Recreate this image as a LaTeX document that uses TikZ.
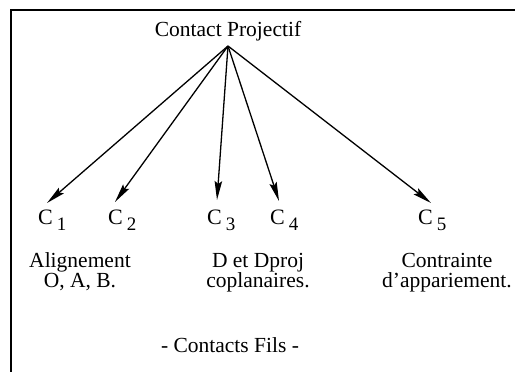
\documentclass[tikz,border=0pt]{standalone}
\usepackage{fontspec}
\setmainfont{Liberation Serif}
\usetikzlibrary{arrows.meta}
\newcommand{\subx}[1]{\hspace{4pt}\raisebox{-6pt}{\fontsize{19}{19}\selectfont #1}}
\begin{document}
\begin{tikzpicture}[x=1pt,y=-1pt,
  lbl/.style={font=\fontsize{21.5}{20}\selectfont, inner sep=0pt, align=center},
  cl/.style={font=\fontsize{22}{20}\selectfont, inner sep=0pt, anchor=base west},
  arr/.style={line width=1.3pt, -{Stealth[length=19pt,width=7.5pt,inset=3pt]}}]
\useasboundingbox (0,0) rectangle (515,372);
\draw[line width=1.3pt] (11,372) -- (11,10) -- (515,10);
\node[lbl, anchor=base] (top) at (228,36) {Contact Projectif};
\coordinate (apex) at (228,46);
\coordinate (t1) at (47,203);
\coordinate (t2) at (115,202);
\coordinate (t3) at (217,200);
\coordinate (t4) at (279,201);
\coordinate (t5) at (431,203);
\foreach \i in {1,...,5} \draw[arr] (apex) -- (t\i);
\node[cl] (c1) at (38,224) {C\subx{1}};
\node[cl] (c2) at (108,224) {C\subx{2}};
\node[cl] (c3) at (207,224) {C\subx{3}};
\node[cl] (c4) at (270,224) {C\subx{4}};
\node[cl] (c5) at (418,224) {C\subx{5}};
\node[lbl, anchor=base] (d1) at (80,287) {Alignement\\O, A, B.};
\node[lbl, anchor=base] (d3) at (258,287) {D et Dproj\\coplanaires.};
\node[lbl, anchor=base] (d5) at (447,287) {Contrainte\\d’appariement.};
\node[lbl, anchor=base] (fils) at (230,352) {- Contacts Fils -};
\end{tikzpicture}
\end{document}
